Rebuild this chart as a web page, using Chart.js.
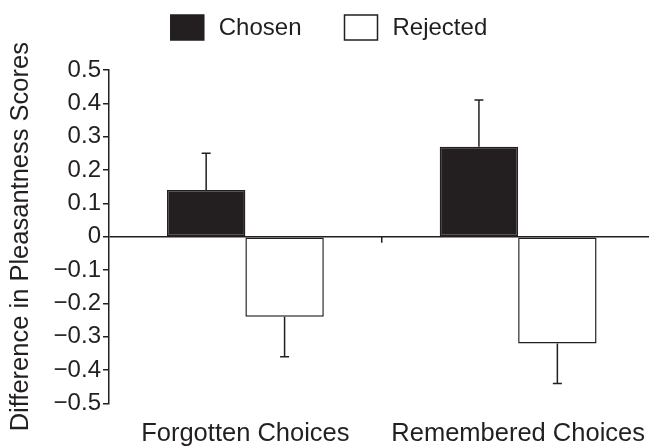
<!DOCTYPE html>
<html>
<head>
<meta charset="utf-8">
<script src="https://cdn.jsdelivr.net/npm/chart.js@4/dist/chart.umd.min.js"></script>
<style>
  html, body { margin: 0; padding: 0; background: #fff; overflow: hidden; }
  #wrap { width: 649px; height: 446px; overflow: hidden; }
</style>
</head>
<body>
<div id="wrap"><canvas id="chart" width="660" height="465"></canvas></div>
<script>
const categories = ['Forgotten Choices', 'Remembered Choices'];
const seriesNames = ['Chosen', 'Rejected'];
const chosenMeans = [0.14, 0.27];
const chosenErrors = [0.11, 0.14];
const rejectedMeans = [-0.24, -0.32];
const rejectedErrors = [0.12, 0.12];
const yTickValues = [-0.5, -0.4, -0.3, -0.2, -0.1, 0, 0.1, 0.2, 0.3, 0.4, 0.5];

const ink = '#231f20';
const fontFamily = '"Liberation Sans", Arial, Helvetica, sans-serif';

const formatTick = (v) => {
  if (Math.abs(v) < 1e-9) return '0';
  const s = Math.abs(v).toFixed(1);
  return v < 0 ? '\u2212' + s : s;
};

// one-sided error bars, pointing away from zero
const errorBars = {
  id: 'errorBars',
  afterDatasetsDraw(chart) {
    const { ctx } = chart;
    const yScale = chart.scales.y;
    chart.data.datasets.forEach((ds, i) => {
      const meta = chart.getDatasetMeta(i);
      meta.data.forEach((bar, j) => {
        const v = ds.data[j];
        const err = ds.errors[j];
        const yEnd = yScale.getPixelForValue(v >= 0 ? v + err : v - err);
        ctx.save();
        ctx.strokeStyle = ink;
        ctx.lineWidth = 1.5;
        ctx.beginPath();
        ctx.moveTo(bar.x, bar.y);
        ctx.lineTo(bar.x, yEnd);
        ctx.moveTo(bar.x - 4.5, yEnd);
        ctx.lineTo(bar.x + 4.5, yEnd);
        ctx.stroke();
        ctx.restore();
      });
    });
  }
};

// small tick on the zero line between the two groups
const groupTick = {
  id: 'groupTick',
  afterDraw(chart) {
    const { ctx } = chart;
    const x = (chart.scales.x.getPixelForTick(0) + chart.scales.x.getPixelForTick(1)) / 2;
    const y0 = chart.scales.y.getPixelForValue(0);
    ctx.save();
    ctx.strokeStyle = ink;
    ctx.lineWidth = 1.5;
    ctx.beginPath();
    ctx.moveTo(x, y0);
    ctx.lineTo(x, y0 + 6);
    ctx.stroke();
    ctx.restore();
  }
};

const topLegend = {
  id: 'topLegend',
  afterDraw(chart) {
    const { ctx } = chart;
    const boxW = 33, boxH = 25, gap = 15, itemGap = 43;
    ctx.save();
    ctx.font = '24px ' + fontFamily;
    const widths = seriesNames.map((n) => ctx.measureText(n).width);
    const total = widths.reduce((a, w) => a + boxW + gap + w, 0) + itemGap;
    let x = 329 - total / 2;
    const yMid = 27.5;
    chart.data.datasets.forEach((ds, i) => {
      ctx.fillStyle = ds.backgroundColor;
      ctx.fillRect(x, yMid - boxH / 2, boxW, boxH);
      ctx.strokeStyle = ink;
      ctx.lineWidth = 1.5;
      ctx.strokeRect(x, yMid - boxH / 2, boxW, boxH);
      ctx.fillStyle = ink;
      ctx.textBaseline = 'middle';
      ctx.fillText(seriesNames[i], x + boxW + gap, yMid + 1);
      x += boxW + gap + widths[i] + itemGap;
    });
    ctx.restore();
  }
};

new Chart(document.getElementById('chart'), {
  type: 'bar',
  data: {
    labels: categories,
    datasets: [
      {
        label: seriesNames[0],
        data: chosenMeans,
        errors: chosenErrors,
        backgroundColor: ink,
        borderColor: ink,
        borderWidth: 1.5,
        borderSkipped: false
      },
      {
        label: seriesNames[1],
        data: rejectedMeans,
        errors: rejectedErrors,
        backgroundColor: '#ffffff',
        borderColor: ink,
        borderWidth: 1.5,
        borderSkipped: false
      }
    ]
  },
  options: {
    responsive: false,
    animation: false,
    devicePixelRatio: 1,
    layout: { padding: { top: 70, left: 2, right: 0, bottom: 1 } },
    datasets: { bar: { categoryPercentage: 0.575, barPercentage: 1 } },
    plugins: {
      legend: { display: false },
      tooltip: { enabled: false }
    },
    scales: {
      x: {
        grid: { display: false, drawTicks: false },
        border: { display: false },
        ticks: {
          color: ink,
          padding: 15,
          font: { size: 25.5, family: fontFamily }
        }
      },
      y: {
        min: -0.5,
        max: 0.5,
        afterBuildTicks: (scale) => {
          scale.ticks = yTickValues.map((v) => ({ value: v }));
        },
        grid: {
          color: (c) => (c.tick && Math.abs(c.tick.value) < 1e-9 ? ink : 'rgba(0,0,0,0)'),
          lineWidth: 1.5,
          tickColor: ink,
          tickLength: 6,
          tickWidth: 1.5,
          drawTicks: true
        },
        border: { display: true, color: ink, width: 1.5 },
        ticks: {
          color: ink,
          padding: 2,
          font: { size: 24, family: fontFamily },
          callback: (v) => formatTick(v)
        },
        title: {
          display: true,
          text: 'Difference in Pleasantness Scores',
          color: ink,
          padding: { top: 4, bottom: 15 },
          font: { size: 25.5, family: fontFamily }
        }
      }
    }
  },
  plugins: [errorBars, groupTick, topLegend]
});
</script>
</body>
</html>
